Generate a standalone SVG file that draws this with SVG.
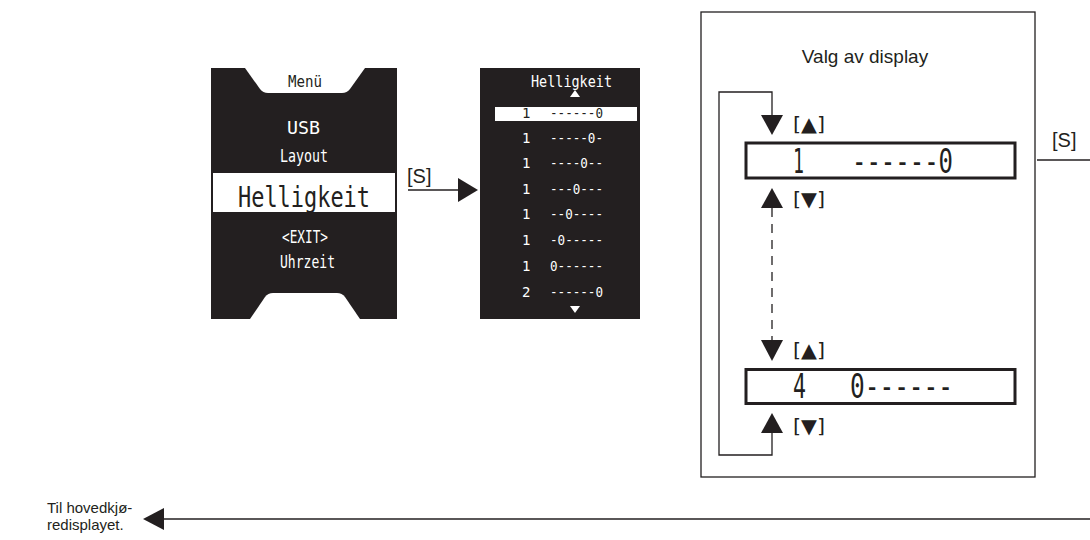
<svg xmlns="http://www.w3.org/2000/svg" width="1090" height="540" viewBox="0 0 1090 540">
<style>
.lcd{font-family:"DejaVu Sans Mono","Liberation Mono",monospace;}
.w{fill:#ffffff;}
.k{fill:#231f20;}
.lbl{font-family:"Liberation Sans",Arial,sans-serif;fill:#231f20;}
.key{font-family:"DejaVu Sans Condensed","DejaVu Sans",sans-serif;fill:#231f20;}
.ln{stroke:#231f20;stroke-width:1.3;fill:none;}
.head{fill:#231f20;stroke:none;}
</style>
<rect width="1090" height="540" fill="#ffffff"/>

<g id="menu-screen">
<rect x="211" y="68" width="186" height="251" class="k"/>
<path d="M245,68 L365,68 L350,89 Q347,93 342,93 L268,93 Q263,93 260,89 Z" class="w"/>
<path d="M250,319 L360,319 L345,297 Q342,293 337,293 L273,293 Q268,293 265,297 Z" class="w"/>
<text x="288" y="87" class="lcd k" font-size="16" textLength="34" lengthAdjust="spacingAndGlyphs">Menü</text>
<text x="287" y="134" class="lcd w" font-size="17" textLength="33" lengthAdjust="spacingAndGlyphs">USB</text>
<text x="280" y="162" class="lcd w" font-size="17" textLength="48" lengthAdjust="spacingAndGlyphs">Layout</text>
<rect x="213" y="173" width="182" height="39" class="w"/>
<text x="238" y="207" class="lcd k" font-size="29" textLength="132" lengthAdjust="spacingAndGlyphs">Helligkeit</text>
<text x="282" y="243" class="lcd w" font-size="17" textLength="46" lengthAdjust="spacingAndGlyphs">&lt;EXIT&gt;</text>
<text x="280" y="268" class="lcd w" font-size="17" textLength="55" lengthAdjust="spacingAndGlyphs">Uhrzeit</text>
</g>

<g id="brightness-screen">
<rect x="480" y="68" width="160" height="251" class="k"/>
<text x="531" y="87" class="lcd w" font-size="16" textLength="81" lengthAdjust="spacingAndGlyphs">Helligkeit</text>
<polygon points="570,97 580,97 575,90" class="w"/>
<rect x="495" y="107" width="142" height="14" class="w"/>
<g class="lcd" font-size="14">
<text x="522" y="118" class="k">1</text><text x="550" y="118" class="k" textLength="53" lengthAdjust="spacingAndGlyphs">------0</text>
<text x="522" y="143" class="w">1</text><text x="550" y="143" class="w" textLength="53" lengthAdjust="spacingAndGlyphs">-----0-</text>
<text x="522" y="168" class="w">1</text><text x="550" y="168" class="w" textLength="53" lengthAdjust="spacingAndGlyphs">----0--</text>
<text x="522" y="194" class="w">1</text><text x="550" y="194" class="w" textLength="53" lengthAdjust="spacingAndGlyphs">---0---</text>
<text x="522" y="219" class="w">1</text><text x="550" y="219" class="w" textLength="53" lengthAdjust="spacingAndGlyphs">--0----</text>
<text x="522" y="245" class="w">1</text><text x="550" y="245" class="w" textLength="53" lengthAdjust="spacingAndGlyphs">-0-----</text>
<text x="522" y="271" class="w">1</text><text x="550" y="271" class="w" textLength="53" lengthAdjust="spacingAndGlyphs">0------</text>
<text x="522" y="297" class="w">2</text><text x="550" y="297" class="w" textLength="53" lengthAdjust="spacingAndGlyphs">------0</text>
</g>
<polygon points="570,306 580,306 575,313" class="w"/>
</g>

<g id="display-panel">
<rect x="701" y="12" width="334" height="465" class="ln"/>
<text x="865" y="63" class="lbl" font-size="19" text-anchor="middle">Valg av display</text>
</g>

<g id="display-1">
<rect x="746" y="143" width="269" height="35" fill="#ffffff" stroke="#231f20" stroke-width="3"/>
<text x="793" y="173" class="lcd k" font-size="34" textLength="11" lengthAdjust="spacingAndGlyphs">1</text>
<text x="852" y="173" class="lcd k" font-size="34" textLength="101" lengthAdjust="spacingAndGlyphs">------0</text>
</g>

<g id="display-2">
<rect x="746" y="369.5" width="269" height="34" fill="#ffffff" stroke="#231f20" stroke-width="3"/>
<text x="793" y="398" class="lcd k" font-size="34" textLength="13" lengthAdjust="spacingAndGlyphs">4</text>
<text x="850" y="398" class="lcd k" font-size="34" textLength="103" lengthAdjust="spacingAndGlyphs">0------</text>
</g>

<g id="labels">
<text x="407" y="183" class="lbl" font-size="20">[S]</text>
<text x="1052" y="147" class="lbl" font-size="20">[S]</text>
<text x="793" y="131" class="key" font-size="20" textLength="32" lengthAdjust="spacingAndGlyphs">[▲]</text>
<text x="793" y="206" class="key" font-size="20" textLength="32" lengthAdjust="spacingAndGlyphs">[▼]</text>
<text x="793" y="357" class="key" font-size="20" textLength="32" lengthAdjust="spacingAndGlyphs">[▲]</text>
<text x="793" y="433" class="key" font-size="20" textLength="32" lengthAdjust="spacingAndGlyphs">[▼]</text>
<text x="47" y="513" class="lbl" font-size="15">Til hovedkjø-</text>
<text x="47" y="530" class="lbl" font-size="15">redisplayet.</text>
</g>

<g id="connectors">
<line x1="408" y1="190" x2="460" y2="190" class="ln"/>
<polygon points="478,190 458,178 458,202" class="head"/>
<polyline points="772,115 772,92 719,92 719,455 772,455 772,433" class="ln"/>
<polygon points="761,115 783,115 772,135" class="head"/>
<polygon points="761,208 783,208 772,188" class="head"/>
<line x1="772" y1="208" x2="772" y2="340" class="ln" stroke-dasharray="9 7"/>
<polygon points="761,340 783,340 772,361" class="head"/>
<polygon points="761,433 783,433 772,413" class="head"/>
<line x1="1037" y1="160" x2="1090" y2="160" class="ln"/>
<line x1="162" y1="519" x2="1090" y2="519" class="ln"/>
<polygon points="143,519 164,508 164,530" class="head"/>
</g>
</svg>
